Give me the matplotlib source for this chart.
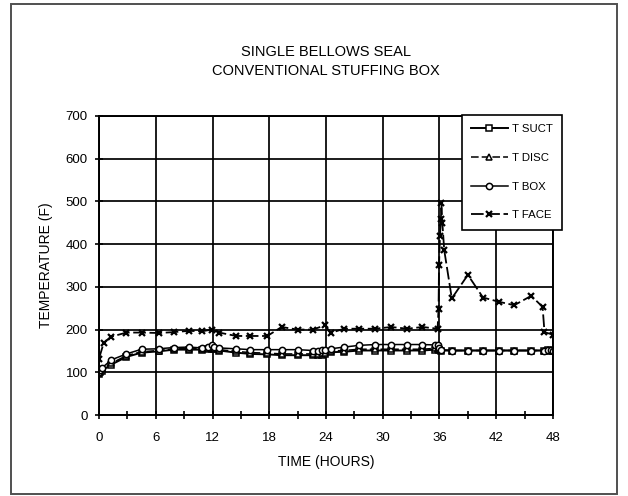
import matplotlib
matplotlib.use("Agg")
import matplotlib.pyplot as plt
from matplotlib.patches import Rectangle

plt.rcParams["font.family"] = ["Liberation Sans", "DejaVu Sans"]

# Temperature histories (hours, degrees F)
t_low = [0, 0.1, 0.3, 1.3, 2.9, 4.5, 6.3, 7.9, 9.5, 10.9, 11.5, 11.9, 12.2, 12.7,
         14.5, 16.0, 17.8, 19.3, 21.0, 22.6, 23.2, 23.6, 23.9, 24.5, 25.9, 27.5,
         29.2, 30.9, 32.6, 34.2, 35.5, 35.8, 36.0, 36.2, 37.3, 39.0, 40.6, 42.3,
         43.9, 45.7, 47.1, 47.5, 47.8, 48.0]
t_suct = [96, 100, 104, 118, 136, 146, 149, 153, 153, 153, 154, 155, 155, 151,
          146, 143, 142, 140, 140, 140, 140, 141, 143, 147, 148, 151,
          151, 151, 151, 151, 153, 155, 153, 151, 151, 151, 151, 151,
          151, 151, 151, 152, 151, 150]
t_disc = [98, 102, 107, 121, 139, 148, 151, 155, 155, 155, 156, 158, 157, 153,
          149, 146, 145, 143, 143, 143, 143, 144, 146, 150, 151, 154,
          154, 154, 154, 154, 156, 157, 155, 152, 151, 151, 151, 151,
          151, 151, 151, 153, 152, 151]
t_box = [100, 105, 110, 129, 143, 154, 155, 158, 159, 157, 160, 163, 160, 157,
         155, 153, 153, 153, 153, 151, 151, 152, 153, 155, 159, 163,
         165, 165, 165, 165, 164, 163, 158, 152, 151, 151, 151, 151,
         151, 151, 151, 153, 152, 151]

t_face_hours = [0, 0.5, 1.25, 2.9, 4.5, 6.3, 7.9, 9.5, 10.9, 11.9, 12.7, 14.5,
                16.0, 17.8, 19.3, 21.0, 22.6, 23.9, 24.5, 25.9, 27.5, 29.2,
                30.9, 32.6, 34.2, 35.8, 35.9, 35.95, 36.05, 36.15, 36.2, 36.3,
                36.5, 37.3, 39.0, 40.6, 42.3, 43.9, 45.7, 46.9, 47.1, 48.0]
t_face = [132, 169, 183, 193, 193, 192, 194, 197, 196, 200, 193, 185,
          185, 185, 206, 200, 200, 210, 192, 202, 202, 202,
          206, 202, 206, 202, 249, 351, 420, 460, 496, 450,
          386, 273, 328, 275, 265, 257, 279, 253, 194, 188]

x_ticks = [0, 6, 12, 18, 24, 30, 36, 42, 48]
y_ticks = [0, 100, 200, 300, 400, 500, 600, 700]

W, H = 628, 496
fig = plt.figure(figsize=(W / 100, H / 100), dpi=100)
ax = fig.add_axes([99 / W, 1 - 415 / H, 454 / W, 299 / H])

ax.set_xlim(0, 48)
ax.set_ylim(0, 700)
ax.set_xticks(x_ticks)
ax.set_xticks(range(0, 49, 3), minor=True)
ax.set_yticks(y_ticks)
ax.grid(True, which="major", color="black", linewidth=1.25)
ax.tick_params(which="both", direction="inout", length=6, width=1.2,
               labelsize=9.5, colors="black")
ax.tick_params(axis="x", which="major", pad=9)
ax.tick_params(axis="y", which="major", pad=5)
for s in ax.spines.values():
    s.set_linewidth(1.4)

mk = dict(markersize=4.5, markerfacecolor="white", markeredgecolor="black",
          markeredgewidth=1.1)
ax.plot(t_low, t_suct, "-", color="black", lw=1.4, marker="s",
        label="T SUCT", **mk)
ax.plot(t_low, t_disc, "--", color="black", lw=1.1, marker="^",
        dashes=(5, 2), label="T DISC", **mk)
ax.plot(t_low, t_box, "-", color="black", lw=1.1, marker="o",
        label="T BOX", **mk)
ax.plot(t_face_hours, t_face, "--", color="black", lw=1.3, dashes=(7, 2),
        marker="x", markersize=5, markeredgewidth=1.6, label="T FACE")

ax.set_xlabel("TIME (HOURS)", fontsize=10, labelpad=8)
ax.set_ylabel("TEMPERATURE (F)", fontsize=10, labelpad=9)

fig.text(326 / W, 1 - 52 / H, "SINGLE BELLOWS SEAL", ha="center",
         va="center", fontsize=10.5)
fig.text(326 / W, 1 - 71 / H, "CONVENTIONAL STUFFING BOX", ha="center",
         va="center", fontsize=10.5)

leg = ax.legend(loc="upper left", bbox_to_anchor=(462 / W, 1 - 115 / H),
                bbox_transform=fig.transFigure, borderaxespad=0,
                fontsize=8.2, handlelength=3.2, handletextpad=0.35,
                labelspacing=1.65, borderpad=0.8, fancybox=False,
                framealpha=1, edgecolor="black")
leg.get_frame().set_linewidth(1.2)
leg.set_zorder(10)

fig.patches.append(Rectangle((11 / W, 1 - 494 / H), 606 / W, 490 / H,
                             transform=fig.transFigure, fill=False,
                             edgecolor="#505050", linewidth=1.4))

fig.savefig("out.png", dpi=100)
